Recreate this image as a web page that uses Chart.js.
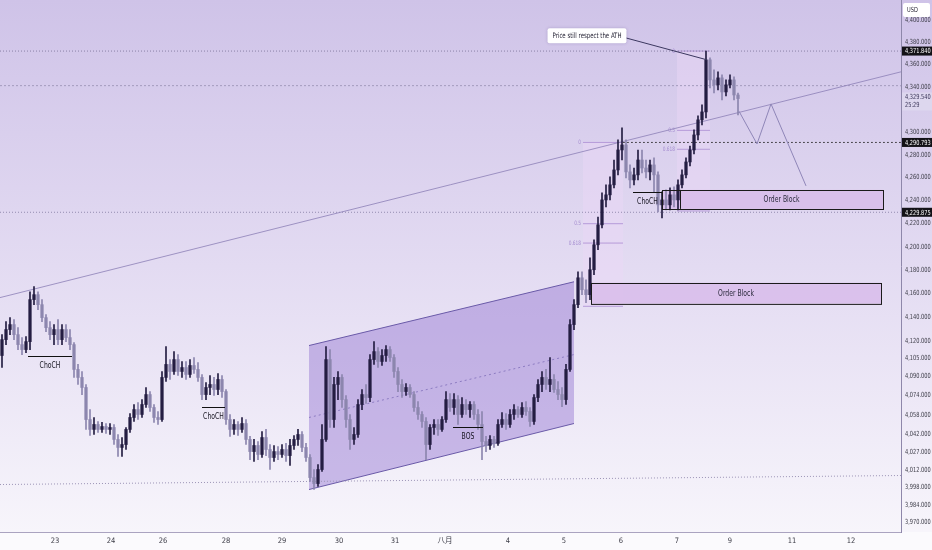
<!DOCTYPE html>
<html>
<head>
<meta charset="utf-8">
<script src="https://cdn.jsdelivr.net/npm/chart.js@4.4.1/dist/chart.umd.min.js"></script>
<style>
  html, body { margin: 0; padding: 0; background: #fff; }
  #wrap { width: 932px; height: 550px; }
</style>
</head>
<body>
<div id="wrap"><canvas id="chart" width="932" height="550"></canvas></div>
<script>
// time axis labels and their candle positions
const dayLabels = ["23", "24", "26", "28", "29", "30", "31", "八月", "4", "5", "6", "7", "9", "11", "12"];
const dayTickPos = [13.25, 27.25, 40.25, 56, 70, 84.25, 98.25, 110.75, 126.5, 140.5, 154.75, 168.75, 182, 197.5, 212.25];
const priceTicks = [4400, 4380, 4360, 4340, 4300, 4280, 4260, 4240, 4220, 4200, 4180, 4160, 4140, 4120,
  4105, 4090, 4074, 4058, 4042, 4027, 4012, 3998, 3984, 3970];

// candles (open of each bar = previous close)
const firstOpen = 4107.6;
const closes = [
  4121.0, 4129.5, 4133.7, 4125.2, 4116.8, 4112.6, 4119.3, 4154.9, 4159.1, 4150.6,
  4139.6, 4131.1, 4125.2, 4129.5, 4121.0, 4129.5, 4122.7, 4116.8, 4095.9, 4089.2,
  4080.8, 4054.1, 4045.9, 4050.0, 4045.9, 4048.3, 4045.9, 4047.5, 4037.6, 4031.0,
  4033.4, 4045.9, 4055.8, 4062.4, 4058.3, 4066.6, 4074.9, 4064.1, 4055.8, 4054.1,
  4089.2, 4100.1, 4094.2, 4104.2, 4094.2, 4097.5, 4091.7, 4099.2, 4095.9, 4089.2,
  4074.9, 4080.8, 4083.3, 4079.1, 4087.5, 4077.4, 4054.1, 4045.9, 4050.0, 4045.9,
  4050.8, 4037.6, 4027.6, 4032.6, 4025.2, 4039.2, 4029.3, 4022.7, 4027.6, 4025.2,
  4029.3, 4024.3, 4032.6, 4037.6, 4041.7, 4031.0, 4022.7, 4006.2, 4001.3, 4012.8,
  4037.6, 4104.2, 4054.1, 4083.3, 4089.2, 4070.7, 4054.1, 4037.6, 4041.7, 4066.6,
  4074.9, 4072.4, 4104.2, 4110.9, 4102.6, 4107.6, 4112.6, 4105.9, 4094.2, 4083.3,
  4077.4, 4080.8, 4074.9, 4064.1, 4058.3, 4052.5, 4033.4, 4047.5, 4050.0, 4045.9,
  4054.1, 4070.7, 4064.1, 4070.7, 4058.3, 4066.6, 4062.4, 4066.6, 4058.3, 4050.0,
  4035.9, 4032.6, 4037.6, 4034.3, 4050.0, 4054.1, 4050.0, 4058.3, 4062.4, 4058.3,
  4064.1, 4060.8, 4052.5, 4072.4, 4083.3, 4089.2, 4083.3, 4087.5, 4079.1, 4074.9,
  4070.7, 4095.9, 4133.7, 4150.6, 4173.5, 4163.3, 4159.1, 4180.4, 4201.8, 4219.0,
  4240.6, 4245.0, 4253.7, 4266.7, 4284.2, 4288.6, 4265.0, 4258.0, 4262.4, 4275.4,
  4268.4, 4265.0, 4271.1, 4262.4, 4236.3, 4240.6, 4236.3, 4245.0, 4240.6, 4253.7,
  4262.4, 4273.7, 4284.2, 4297.4, 4310.7, 4317.7, 4364.0, 4346.1, 4341.7, 4347.9,
  4335.4, 4341.7, 4346.1, 4332.7, 4329.54
];
const highs = [
  4125.2, 4136.2, 4139.6, 4137.9, 4131.1, 4122.7, 4123.5, 4161.6, 4165.9, 4161.6,
  4154.9, 4142.2, 4136.2, 4133.7, 4137.9, 4133.7, 4133.7, 4129.5, 4118.5, 4100.1,
  4094.2, 4083.3, 4062.4, 4055.8, 4052.5, 4051.7, 4050.8, 4050.8, 4050.0, 4041.7,
  4039.2, 4047.5, 4059.1, 4066.6, 4068.2, 4070.7, 4080.8, 4077.4, 4066.6, 4060.8,
  4094.2, 4115.1, 4104.2, 4110.9, 4108.4, 4102.6, 4102.6, 4104.2, 4105.9, 4101.7,
  4091.7, 4085.0, 4090.8, 4089.2, 4092.5, 4090.8, 4079.1, 4058.3, 4054.1, 4052.5,
  4055.8, 4054.1, 4040.1, 4037.6, 4035.9, 4044.2, 4045.9, 4033.4, 4032.6, 4031.8,
  4033.4, 4034.3, 4037.6, 4040.9, 4045.9, 4044.2, 4034.3, 4025.2, 4012.8, 4016.9,
  4050.0, 4115.1, 4112.6, 4089.2, 4094.2, 4091.7, 4074.1, 4058.3, 4047.5, 4070.7,
  4079.1, 4083.3, 4108.4, 4119.3, 4114.3, 4112.6, 4116.0, 4115.1, 4108.4, 4097.5,
  4087.5, 4084.1, 4083.3, 4077.4, 4069.0, 4060.8, 4055.8, 4050.0, 4054.1, 4054.1,
  4056.6, 4077.4, 4075.7, 4075.7, 4074.1, 4072.4, 4070.7, 4069.0, 4069.0, 4062.4,
  4060.8, 4040.1, 4040.9, 4040.1, 4054.1, 4059.9, 4059.1, 4062.4, 4066.6, 4064.9,
  4068.2, 4069.0, 4064.1, 4074.9, 4087.5, 4094.2, 4095.9, 4105.9, 4091.7, 4085.8,
  4080.8, 4100.1, 4137.9, 4154.9, 4178.6, 4178.6, 4171.8, 4190.7, 4206.1, 4225.8,
  4246.7, 4253.7, 4260.6, 4275.4, 4293.0, 4303.6, 4293.0, 4271.1, 4268.4, 4284.2,
  4284.2, 4275.4, 4275.4, 4277.2, 4265.0, 4247.6, 4249.3, 4251.0, 4251.9, 4258.0,
  4266.7, 4277.2, 4287.7, 4301.8, 4314.2, 4323.9, 4371.84, 4365.7, 4355.0, 4353.3,
  4350.6, 4346.1, 4350.6, 4348.8, 4334.5
];
const lows = [
  4097.5, 4116.8, 4125.2, 4121.0, 4112.6, 4108.4, 4110.1, 4112.6, 4150.6, 4146.4,
  4136.2, 4127.8, 4121.0, 4116.8, 4116.8, 4116.8, 4119.3, 4112.6, 4089.2, 4083.3,
  4074.9, 4045.9, 4040.9, 4041.7, 4043.4, 4043.4, 4042.6, 4041.7, 4033.4, 4023.5,
  4023.5, 4029.3, 4043.4, 4052.5, 4054.1, 4055.8, 4064.1, 4060.8, 4051.7, 4050.0,
  4052.5, 4085.8, 4087.5, 4091.7, 4090.8, 4089.2, 4087.5, 4089.2, 4092.5, 4085.8,
  4070.7, 4070.7, 4074.9, 4074.1, 4074.9, 4072.4, 4050.0, 4040.1, 4041.7, 4040.9,
  4043.4, 4033.4, 4021.0, 4019.4, 4021.0, 4022.7, 4024.3, 4012.8, 4019.4, 4021.0,
  4022.7, 4019.4, 4016.1, 4029.3, 4032.6, 4027.6, 4019.4, 4003.0, 3996.4, 3998.9,
  4011.2, 4035.9, 4047.5, 4047.5, 4070.7, 4064.1, 4047.5, 4029.3, 4033.4, 4039.2,
  4062.4, 4067.4, 4069.0, 4100.1, 4097.5, 4099.2, 4102.6, 4102.6, 4089.2, 4077.4,
  4072.4, 4074.1, 4072.4, 4060.8, 4054.1, 4047.5, 4021.0, 4029.3, 4041.7, 4040.9,
  4044.2, 4051.7, 4060.8, 4058.3, 4050.0, 4055.8, 4058.3, 4055.8, 4054.1, 4045.9,
  4021.0, 4027.6, 4029.3, 4031.0, 4032.6, 4047.5, 4045.9, 4047.5, 4054.1, 4055.8,
  4055.8, 4057.5, 4048.3, 4050.0, 4069.0, 4077.4, 4079.1, 4077.4, 4076.6, 4070.7,
  4064.9, 4066.6, 4094.2, 4129.5, 4148.1, 4159.1, 4152.3, 4154.9, 4176.1, 4197.5,
  4216.4, 4234.5, 4240.6, 4251.0, 4262.4, 4275.4, 4259.7, 4251.0, 4253.7, 4258.0,
  4264.1, 4259.7, 4258.0, 4247.6, 4230.1, 4224.9, 4231.9, 4231.9, 4234.5, 4231.9,
  4251.0, 4259.7, 4270.2, 4280.7, 4293.0, 4306.3, 4312.4, 4339.0, 4334.5, 4337.2,
  4328.3, 4331.8, 4339.0, 4328.3, 4315.1
];

// drawings, in candle index / price units
const hLevels = [
  { p: 4371.84, from: -0.5, color: "#8a82a6", dash: [1, 2] },
  { p: 4341.0, from: -0.5, color: "#a39bbd", dash: [2, 2] },
  { p: 4229.875, from: -0.5, color: "#948cb0", dash: [1, 2] },
  { p: 4290.793, from: 155.3, color: "#222", dash: [1.5, 2.5] }
];
const bottomLine = [[-0.5, 4000.5], [224.75, 4007.9]];
const trendLine = [[-0.5, 4156.6], [224.75, 4353.3]];
const channel = { x0: 76.75, x1: 143, top: [4116.0, 4170.1], bot: [3996.4, 4050.8], mid: [4055.8, 4108.4] };
const fibZones = [
  { x0: 145.25, x1: 155.25, p0: 4290.793, p1: 4149.2 },
  { x0: 168.75, x1: 177.0, p0: 4371.84, p1: 4231.0 }
];
const fibLevels = [0, 0.5, 0.618, 1];
const orderBlocks = [
  { x0: 147.25, x1: 219.75, hi: 4169.3, lo: 4151.5 },
  { x0: 165.0, x1: 220.25, hi: 4249.3, lo: 4232.8, split: 169.5 }
];
const markers = [
  { x0: 6.5, x1: 17.5, p: 4106.8, text: "ChoCH" },
  { x0: 50.0, x1: 55.75, p: 4064.9, text: "ChoCH" },
  { x0: 112.75, x1: 120.25, p: 4047.5, text: "BOS" },
  { x0: 157.75, x1: 165.0, p: 4247.6, text: "ChoCH" }
];
const projection = [[184.25, 4318.3], [188.75, 4289.5], [192.25, 4324.8], [201.0, 4252.8]];
const callout = { x: 146.25, p: 4385.5, text: "Price still respect the ATH", from: [156.0, 4383.6], to: [176.25, 4364.0] };
const axisMarks = [4371.84, 4290.793, 4229.875];
const lastPrice = 4329.54;
const countdown = "25:29";

const FONT = "'DejaVu Sans Condensed', 'DejaVu Sans', 'Noto Sans CJK SC', sans-serif";
const NARROW = 0.8;
const upColor = "#241d42";
const downColor = "#8c86ae";

const opens = closes.map((c, i) => (i === 0 ? firstOpen : closes[i - 1]));
const colors = closes.map((c, i) => (c >= opens[i] ? upColor : downColor));
const fmt = v => v.toLocaleString("en-US", { minimumFractionDigits: 3, maximumFractionDigits: 3 });

// condensed text, the chart uses a narrow face
function label(ctx, str, x, y, size, color, align) {
  ctx.save();
  ctx.font = size + "px " + FONT;
  ctx.fillStyle = color;
  ctx.textBaseline = "middle";
  ctx.textAlign = align || "center";
  ctx.translate(x, y);
  ctx.scale(NARROW, 1);
  ctx.fillText(str, 0, 0);
  ctx.restore();
}
function labelWidth(ctx, str, size) {
  ctx.save();
  ctx.font = size + "px " + FONT;
  const w = ctx.measureText(str).width * NARROW;
  ctx.restore();
  return w;
}

const drawings = {
  id: "drawings",
  beforeDraw(chart) {
    const { ctx, chartArea: a, width, height } = chart;
    const g = ctx.createLinearGradient(0, a.top, 0, a.bottom);
    g.addColorStop(0, "#cfc3e8");
    g.addColorStop(0.5, "#e3dbf2");
    g.addColorStop(1, "#f7f5fb");
    ctx.save();
    ctx.fillStyle = g;
    ctx.fillRect(0, 0, width, a.bottom);
    ctx.fillStyle = "#fbfafd";
    ctx.fillRect(0, a.bottom, width, height - a.bottom);
    ctx.restore();
  },
  beforeDatasetsDraw(chart) {
    const { ctx, chartArea: a, scales } = chart;
    const X = v => scales.x.getPixelForValue(v);
    const Y = v => scales.y.getPixelForValue(v);
    const line = (pts, color, dash, w) => {
      ctx.beginPath();
      ctx.strokeStyle = color;
      ctx.lineWidth = w || 1;
      ctx.setLineDash(dash || []);
      pts.forEach((pt, i) => (i ? ctx.lineTo(X(pt[0]), Y(pt[1])) : ctx.moveTo(X(pt[0]), Y(pt[1]))));
      ctx.stroke();
      ctx.setLineDash([]);
    };
    ctx.save();
    ctx.beginPath();
    ctx.rect(a.left, a.top, a.right - a.left, a.bottom - a.top);
    ctx.clip();

    // rising channel
    ctx.beginPath();
    ctx.moveTo(X(channel.x0), Y(channel.top[0]));
    ctx.lineTo(X(channel.x1), Y(channel.top[1]));
    ctx.lineTo(X(channel.x1), Y(channel.bot[1]));
    ctx.lineTo(X(channel.x0), Y(channel.bot[0]));
    ctx.closePath();
    ctx.fillStyle = "rgba(146,116,208,0.45)";
    ctx.fill();
    line([[channel.x0, channel.top[0]], [channel.x1, channel.top[1]]], "#6a5aa8");
    line([[channel.x0, channel.bot[0]], [channel.x1, channel.bot[1]]], "#6a5aa8");
    line([[channel.x0, channel.mid[0]], [channel.x1, channel.mid[1]]], "#8d7cc2", [2, 3]);

    // fib zones
    fibZones.forEach(z => {
      ctx.fillStyle = "rgba(236,214,246,0.45)";
      ctx.fillRect(X(z.x0), Y(z.p0), X(z.x1) - X(z.x0), Y(z.p1) - Y(z.p0));
      fibLevels.forEach(l => {
        const p = z.p0 + (z.p1 - z.p0) * l;
        line([[z.x0, p], [z.x1, p]], "#b69bd9");
        if (l < 1) label(ctx, String(l), X(z.x0) - 2, Y(p), 6, "#a58dd0", "right");
      });
    });

    // horizontal levels and lines
    hLevels.forEach(h => line([[h.from, h.p], [224.75, h.p]], h.color, h.dash));
    line(bottomLine, "#9c94b6", [1, 2]);
    line(trendLine, "rgba(140,128,182,0.8)");

    // order blocks
    orderBlocks.forEach(b => {
      ctx.fillStyle = "rgba(216,188,234,0.85)";
      ctx.fillRect(X(b.x0), Y(b.hi), X(b.x1) - X(b.x0), Y(b.lo) - Y(b.hi));
    });
    ctx.restore();
  },
  afterDatasetsDraw(chart) {
    const { ctx, chartArea: a, scales } = chart;
    const X = v => scales.x.getPixelForValue(v);
    const Y = v => scales.y.getPixelForValue(v);
    ctx.save();
    ctx.beginPath();
    ctx.rect(a.left, a.top, a.right - a.left, a.bottom - a.top);
    ctx.clip();
    ctx.lineWidth = 1;

    orderBlocks.forEach(b => {
      ctx.strokeStyle = "#1b1b1b";
      ctx.strokeRect(Math.round(X(b.x0)) + 0.5, Math.round(Y(b.hi)) + 0.5, X(b.x1) - X(b.x0), Y(b.lo) - Y(b.hi));
      if (b.split) {
        ctx.beginPath();
        ctx.moveTo(Math.round(X(b.split)) + 0.5, Y(b.hi));
        ctx.lineTo(Math.round(X(b.split)) + 0.5, Y(b.lo));
        ctx.stroke();
      }
      const cx = b.split ? (X(b.split) + X(b.x1)) / 2 : (X(b.x0) + X(b.x1)) / 2;
      label(ctx, "Order Block", cx, (Y(b.hi) + Y(b.lo)) / 2 + 0.5, 8.5, "#2b2a3c");
    });

    markers.forEach(m => {
      const yy = Math.round(Y(m.p)) + 0.5;
      ctx.strokeStyle = "#111";
      ctx.beginPath();
      ctx.moveTo(X(m.x0), yy);
      ctx.lineTo(X(m.x1), yy);
      ctx.stroke();
      label(ctx, m.text, (X(m.x0) + X(m.x1)) / 2, yy + 9, 8.5, "#15131f");
    });

    // projected path
    ctx.strokeStyle = "#8f86b8";
    ctx.beginPath();
    projection.forEach((pt, i) => (i ? ctx.lineTo(X(pt[0]), Y(pt[1])) : ctx.moveTo(X(pt[0]), Y(pt[1]))));
    ctx.stroke();

    // ATH callout
    ctx.strokeStyle = "#3c3860";
    ctx.beginPath();
    ctx.moveTo(X(callout.from[0]), Y(callout.from[1]));
    ctx.lineTo(X(callout.to[0]), Y(callout.to[1]));
    ctx.stroke();
    const tw = labelWidth(ctx, callout.text, 7.5) + 10;
    const bx = X(callout.x) - tw / 2, by = Y(callout.p) - 7.5;
    ctx.shadowColor = "rgba(60,40,110,0.25)";
    ctx.shadowBlur = 3;
    ctx.fillStyle = "#ffffff";
    ctx.beginPath();
    ctx.roundRect(bx, by, tw, 15, 2);
    ctx.fill();
    ctx.shadowBlur = 0;
    label(ctx, callout.text, X(callout.x), Y(callout.p) + 0.5, 7.5, "#1e1c2e");
    ctx.restore();
  },
  afterDraw(chart) {
    const { ctx, chartArea: a, scales } = chart;
    const Y = v => scales.y.getPixelForValue(v);
    const lx = a.right + 4;
    // price scale labels
    scales.y.ticks.forEach(t => label(ctx, fmt(t.value), lx, Y(t.value), 7, "#3b3b46", "left"));
    axisMarks.forEach(p => {
      const yy = Y(p);
      ctx.fillStyle = "#131217";
      ctx.fillRect(a.right + 1, yy - 4.5, 30, 9);
      label(ctx, fmt(p), lx, yy + 0.5, 7, "#ffffff", "left");
    });
    const ly = Y(lastPrice);
    ctx.fillStyle = "#ddd7ee";
    ctx.fillRect(a.right + 1, ly - 6, 30, 18);
    label(ctx, fmt(lastPrice), lx, ly - 1, 7, "#3a3558", "left");
    label(ctx, countdown, lx, ly + 7, 7, "#3a3558", "left");
    // currency box
    ctx.fillStyle = "#ffffff";
    ctx.beginPath();
    ctx.roundRect(a.right + 2, 3, 27, 14, 2);
    ctx.fill();
    label(ctx, "USD", a.right + 6, 10.5, 7, "#2a2838", "left");
  }
};

new Chart(document.getElementById("chart"), {
  type: "bar",
  data: {
    datasets: [
      {
        data: closes.map((c, i) => ({ x: i, y: [lows[i], highs[i]] })),
        backgroundColor: colors,
        barThickness: 1,
        grouped: false,
        order: 2
      },
      {
        data: closes.map((c, i) => ({ x: i, y: [opens[i], c] })),
        backgroundColor: colors,
        barThickness: 2.6,
        minBarLength: 1,
        grouped: false,
        order: 1
      }
    ]
  },
  options: {
    responsive: false,
    animation: false,
    events: [],
    layout: { padding: 0 },
    plugins: { legend: { display: false }, tooltip: { enabled: false } },
    scales: {
      x: {
        type: "linear",
        min: -0.5,
        max: 224.75,
        offset: false,
        grid: { display: false, drawTicks: false },
        border: { color: "#aaa3c0" },
        afterBuildTicks: s => { s.ticks = dayTickPos.map(v => ({ value: v })); },
        afterFit: s => { s.height = 18; s.paddingLeft = 0; s.paddingRight = 0; },
        ticks: {
          autoSkip: false,
          maxRotation: 0,
          padding: 5,
          color: "#3b3b46",
          font: { size: 7.5, family: FONT },
          callback: (v, i) => dayLabels[i]
        }
      },
      y: {
        type: "logarithmic",
        position: "right",
        min: 3961.8,
        max: 4417.8,
        bounds: "data",
        grid: { display: false, drawTicks: false },
        border: { color: "#8e87aa" },
        afterBuildTicks: s => { s.ticks = priceTicks.map(v => ({ value: v })); },
        afterFit: s => { s.width = 31; s.paddingTop = 0; s.paddingBottom = 0; },
        ticks: { display: false, autoSkip: false }
      }
    }
  },
  plugins: [drawings]
});
</script>
</body>
</html>
